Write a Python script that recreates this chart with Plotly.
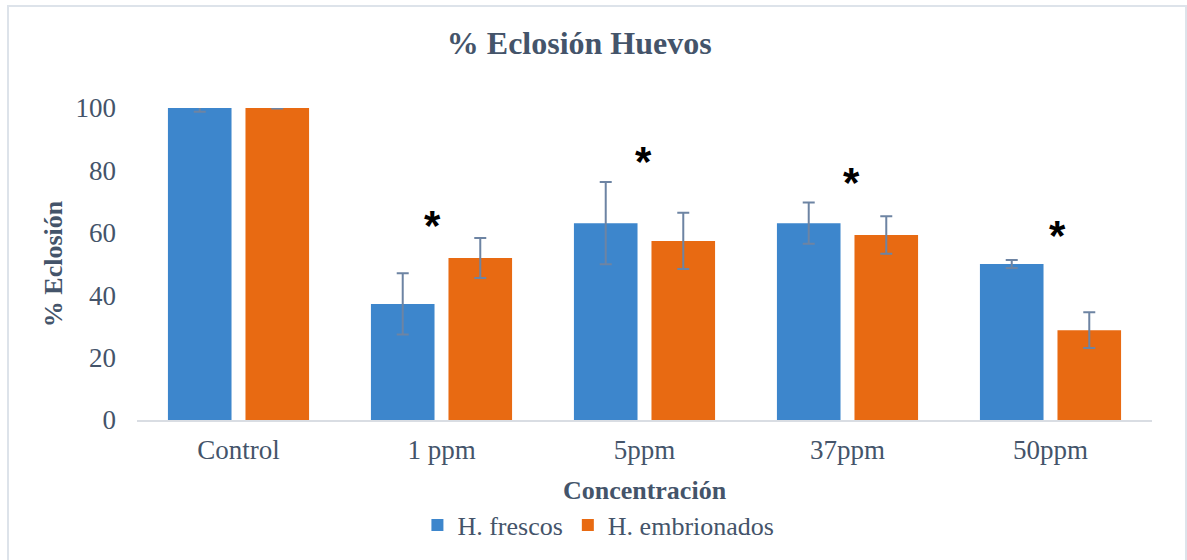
import plotly.graph_objects as go

categories = ["Control", "1 ppm", "5ppm", "37ppm", "50ppm"]
frescos = [100.0, 37.2, 63.1, 63.1, 50.0]
frescos_err = [1.2, 9.8, 13.2, 6.6, 1.3]
embrionados = [100.0, 51.9, 57.4, 59.3, 28.8]
embrionados_err = [0.2, 6.4, 9.0, 6.0, 5.7]
signif_cats = ["1 ppm", "5ppm", "37ppm", "50ppm"]
signif_y = [63.9, 84.4, 77.7, 60.6]
signif_xshift = [-9, -1, 4, 7]
y_ticks = [0, 20, 40, 60, 80, 100]

text_color = "#44546a"
err_color = "#6d84a3"
font_family = "Liberation Serif, Times New Roman, serif"

fig = go.Figure()
fig.add_trace(go.Bar(
    name="H. frescos", x=categories, y=frescos,
    marker=dict(color="#3d86cc", line=dict(width=0)),
    error_y=dict(type="data", array=frescos_err, visible=True,
                 color=err_color, thickness=2, width=6),
    cliponaxis=False,
))
fig.add_trace(go.Bar(
    name="H. embrionados", x=categories, y=embrionados,
    marker=dict(color="#e86a12", line=dict(width=0)),
    error_y=dict(type="data", array=embrionados_err, visible=True,
                 color=err_color, thickness=2, width=6),
    cliponaxis=False,
))

for c, yv, xs in zip(signif_cats, signif_y, signif_xshift):
    fig.add_annotation(x=c, y=yv, xref="x", yref="y", text="<b>*</b>",
                       showarrow=False, xshift=xs, yshift=-5,
                       font=dict(family="Liberation Sans, Arial", size=42, color="#000000"))

fig.update_layout(
    width=1187, height=560,
    margin=dict(l=137, r=35, t=108, b=140, autoexpand=False),
    paper_bgcolor="white", plot_bgcolor="white",
    barmode="group", bargap=0.236, bargroupgap=0.18,
    font=dict(family=font_family, size=27, color=text_color),
    title=dict(text="<b>% Eclosión Huevos</b>", x=0.488, xanchor="center",
               y=1 - 43 / 560, yanchor="middle",
               font=dict(family=font_family, size=32, color=text_color)),
    xaxis=dict(showgrid=False, showline=True, linecolor="#d9dde3", linewidth=2,
               ticks="", ticklabelstandoff=5, automargin=False,
               title=dict(text="<b>Concentración</b>", standoff=16,
                          font=dict(family=font_family, size=26, color=text_color))),
    yaxis=dict(range=[0, 100], showgrid=False, showline=False, zeroline=False,
               tickvals=y_ticks, ticks="", ticklabelstandoff=20, automargin=False,
               title=dict(text="<b>% Eclosión</b>", standoff=5,
                          font=dict(family=font_family, size=26, color=text_color))),
    legend=dict(orientation="h", x=0.4546, xanchor="center", y=-0.337, yanchor="middle",
                font=dict(family=font_family, size=26, color=text_color),
                itemwidth=30, tracegroupgap=0),
    shapes=[dict(type="rect", xref="paper", yref="paper",
                 x0=-129 / 1015, x1=1186 / 1015 - 137 / 1015,
                 y0=(420 - 570) / 312, y1=(420 - 6) / 312,
                 line=dict(color="#dde3ea", width=2), fillcolor="rgba(0,0,0,0)",
                 layer="below")],
)

fig.write_html("out.html", config={"displayModeBar": False},
               post_script="document.body.style.margin='0';")
